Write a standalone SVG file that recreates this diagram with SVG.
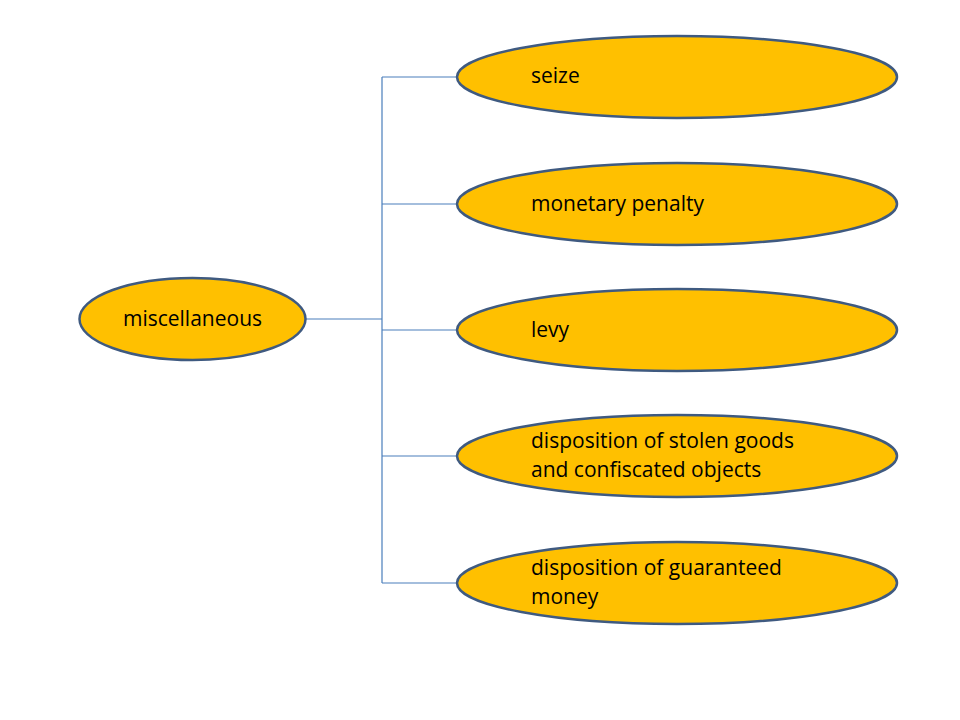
<svg xmlns="http://www.w3.org/2000/svg" width="960" height="720" viewBox="0 0 960 720">
<style>
.node ellipse{fill:#FFC000;stroke:#3F5A80;stroke-width:2.5}
.node text{font-family:"Open Sans","Liberation Sans",Arial,sans-serif;font-size:21px;fill:#000}
.conn{fill:none;stroke:#4A7EBB;stroke-width:1.2}
</style>
<rect width="960" height="720" fill="#fff"/>
<g id="connectors">
<path class="conn" d="M306,319H382M382,77V583M382,77H457M382,204H457M382,330H457M382,456H457M382,583H457"/>
</g>
<g id="n-misc" class="node"><ellipse cx="192.5" cy="319" rx="113" ry="41"/><text x="192.5" y="326" text-anchor="middle">miscellaneous</text></g>
<g id="n-seize" class="node"><ellipse cx="677" cy="77" rx="220" ry="41"/><text x="531" y="83">seize</text></g>
<g id="n-monetary" class="node"><ellipse cx="677" cy="204" rx="220" ry="41"/><text x="531" y="211">monetary penalty</text></g>
<g id="n-levy" class="node"><ellipse cx="677" cy="330" rx="220" ry="41"/><text x="531" y="337">levy</text></g>
<g id="n-stolen" class="node"><ellipse cx="677" cy="456" rx="220" ry="41"/><text x="531" y="448">disposition of stolen goods</text><text x="531" y="477">and confiscated objects</text></g>
<g id="n-guaranteed" class="node"><ellipse cx="677" cy="583" rx="220" ry="41"/><text x="531" y="575">disposition of guaranteed</text><text x="531" y="604">money</text></g>
</svg>
